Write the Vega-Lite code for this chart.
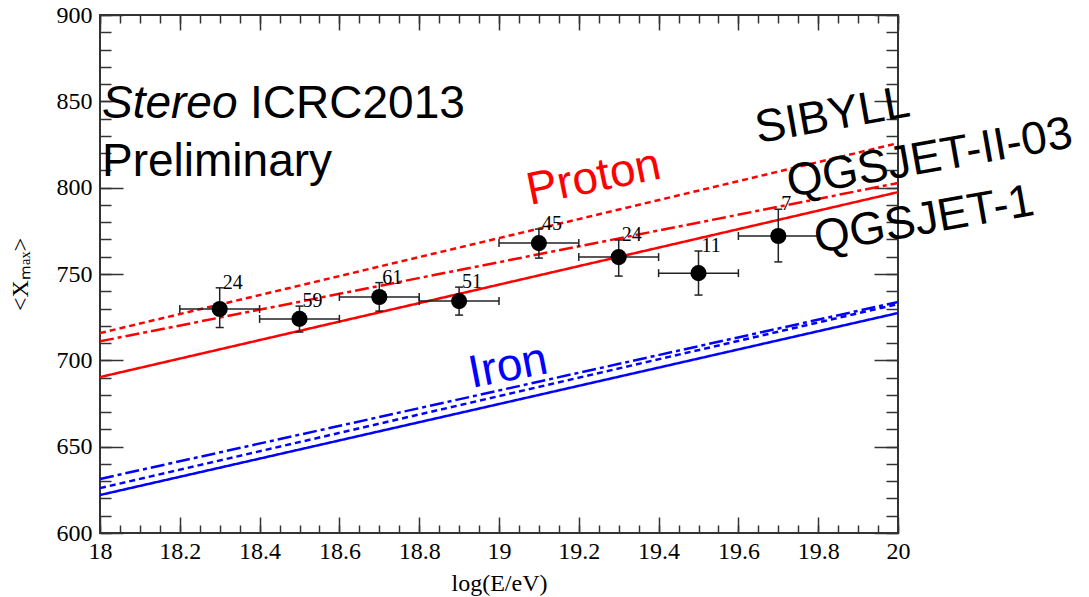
{
  "$schema": "https://vega.github.io/schema/vega-lite/v6.json",
  "width": 798,
  "height": 518,
  "autosize": "none",
  "padding": {"left": 100, "top": 15, "right": 191, "bottom": 64},
  "background": "white",
  "config": {
    "view": {"stroke": "#333333", "strokeWidth": 2},
    "axis": {
      "domain": false,
      "grid": false,
      "labelFont": "Liberation Serif",
      "labelFontSize": 24,
      "labelColor": "#000000",
      "titleFont": "Liberation Serif",
      "titleFontSize": 24,
      "titleFontWeight": "normal",
      "titleColor": "#000000",
      "tickColor": "#333333",
      "tickWidth": 1.5,
      "labelFlush": false,
      "labelOverlap": false
    }
  },
  "datasets": {
    "models": [
      {"comp": "Proton", "model": "QGSJET-1", "logE": 18, "xmax": 690.3},
      {"comp": "Proton", "model": "QGSJET-1", "logE": 20, "xmax": 797.4},
      {"comp": "Proton", "model": "SIBYLL", "logE": 18, "xmax": 715.8},
      {"comp": "Proton", "model": "SIBYLL", "logE": 20, "xmax": 825.8},
      {"comp": "Proton", "model": "QGSJET-II-03", "logE": 18, "xmax": 711.0},
      {"comp": "Proton", "model": "QGSJET-II-03", "logE": 20, "xmax": 802.7},
      {"comp": "Iron", "model": "QGSJET-1", "logE": 18, "xmax": 622.0},
      {"comp": "Iron", "model": "QGSJET-1", "logE": 20, "xmax": 727.4},
      {"comp": "Iron", "model": "SIBYLL", "logE": 18, "xmax": 626.0},
      {"comp": "Iron", "model": "SIBYLL", "logE": 20, "xmax": 732.6},
      {"comp": "Iron", "model": "QGSJET-II-03", "logE": 18, "xmax": 631.3},
      {"comp": "Iron", "model": "QGSJET-II-03", "logE": 20, "xmax": 733.8}
    ],
    "stereo": [
      {"logE": 18.3, "lo": 18.2, "hi": 18.4, "xmax": 729.7, "down": 719.0, "up": 742.0, "n": 24},
      {"logE": 18.5, "lo": 18.4, "hi": 18.6, "xmax": 724.0, "down": 716.4, "up": 731.4, "n": 59},
      {"logE": 18.7, "lo": 18.6, "hi": 18.8, "xmax": 736.7, "down": 728.5, "up": 745.0, "n": 61},
      {"logE": 18.9, "lo": 18.8, "hi": 19.0, "xmax": 734.3, "down": 726.2, "up": 742.4, "n": 51},
      {"logE": 19.1, "lo": 19.0, "hi": 19.2, "xmax": 767.9, "down": 759.2, "up": 776.0, "n": 45},
      {"logE": 19.3, "lo": 19.2, "hi": 19.4, "xmax": 759.8, "down": 748.8, "up": 769.7, "n": 24},
      {"logE": 19.5, "lo": 19.4, "hi": 19.6, "xmax": 750.5, "down": 737.8, "up": 763.3, "n": 11},
      {"logE": 19.7, "lo": 19.6, "hi": 19.8, "xmax": 772.0, "down": 757.0, "up": 787.5, "n": 7}
    ],
    "notes": [
      {"group": "italic", "text": "Stereo", "logE": 18.005, "xmax": 840.3},
      {"group": "plain", "text": "ICRC2013", "logE": 18.376, "xmax": 840.3},
      {"group": "plain", "text": "Preliminary", "logE": 18.005, "xmax": 806.7},
      {"group": "proton", "text": "Proton", "logE": 19.078, "xmax": 789.9},
      {"group": "iron", "text": "Iron", "logE": 18.932, "xmax": 684.0},
      {"group": "model", "text": "SIBYLL", "logE": 19.649, "xmax": 825.8},
      {"group": "model", "text": "QGSJET-II-03", "logE": 19.729, "xmax": 794.6},
      {"group": "model", "text": "QGSJET-1", "logE": 19.797, "xmax": 762.1}
    ]
  },
  "layer": [
    {
      "data": {"name": "models"},
      "mark": {"type": "line", "strokeWidth": 2.5},
      "encoding": {
        "x": {
          "field": "logE", "type": "quantitative",
          "scale": {"domain": [18, 20], "nice": false, "zero": false},
          "axis": {
            "orient": "bottom", "ticks": false, "labelPadding": 6, "format": "~g",
            "values": [18, 18.2, 18.4, 18.6, 18.8, 19, 19.2, 19.4, 19.6, 19.8, 20],
            "title": "log(E/eV)", "titlePadding": 8
          }
        },
        "y": {
          "field": "xmax", "type": "quantitative",
          "scale": {"domain": [600, 900], "nice": false, "zero": false},
          "axis": {
            "orient": "left", "ticks": false, "labelPadding": 8, "format": "d",
            "values": [600, 650, 700, 750, 800, 850, 900],
            "title": "<Xₘₐₓ>", "titlePadding": 24
          }
        },
        "color": {
          "field": "comp", "type": "nominal",
          "scale": {"domain": ["Proton", "Iron"], "range": ["#ff0000", "#0000ff"]},
          "legend": null
        },
        "strokeDash": {
          "field": "model", "type": "nominal",
          "scale": {"domain": ["QGSJET-1", "SIBYLL", "QGSJET-II-03"], "range": [[1, 0], [6, 4], [14, 4, 4, 4]]},
          "legend": null
        }
      }
    },
    {
      "data": {"name": "stereo"},
      "mark": {"type": "rule", "color": "#222222", "strokeWidth": 1.5},
      "encoding": {
        "x": {
          "field": "lo", "type": "quantitative",
          "axis": {
            "orient": "bottom", "labels": false, "ticks": true, "tickSize": 16, "offset": -16, "title": null,
            "values": [18, 18.2, 18.4, 18.6, 18.8, 19, 19.2, 19.4, 19.6, 19.8, 20]
          }
        },
        "x2": {"field": "hi"},
        "y": {
          "field": "xmax", "type": "quantitative",
          "axis": {
            "orient": "left", "labels": false, "ticks": true, "tickSize": 23, "offset": -23, "title": null,
            "values": [600, 650, 700, 750, 800, 850, 900]
          }
        }
      }
    },
    {
      "data": {"name": "stereo"},
      "mark": {"type": "rule", "color": "#222222", "strokeWidth": 1.5},
      "encoding": {
        "x": {
          "field": "logE", "type": "quantitative",
          "axis": {
            "orient": "bottom", "labels": false, "ticks": true, "tickSize": 8, "offset": -8, "title": null,
            "values": [18, 18.05, 18.1, 18.15, 18.2, 18.25, 18.3, 18.35, 18.4, 18.45, 18.5, 18.55, 18.6, 18.65, 18.7, 18.75, 18.8, 18.85, 18.9, 18.95, 19, 19.05, 19.1, 19.15, 19.2, 19.25, 19.3, 19.35, 19.4, 19.45, 19.5, 19.55, 19.6, 19.65, 19.7, 19.75, 19.8, 19.85, 19.9, 19.95, 20]
          }
        },
        "y": {
          "field": "down", "type": "quantitative",
          "axis": {
            "orient": "left", "labels": false, "ticks": true, "tickSize": 11, "offset": -11, "title": null,
            "values": [600, 610, 620, 630, 640, 650, 660, 670, 680, 690, 700, 710, 720, 730, 740, 750, 760, 770, 780, 790, 800, 810, 820, 830, 840, 850, 860, 870, 880, 890, 900]
          }
        },
        "y2": {"field": "up"}
      }
    },
    {
      "data": {"name": "stereo"},
      "mark": {"type": "tick", "orient": "horizontal", "size": 8, "thickness": 1.5, "color": "#222222", "opacity": 1},
      "encoding": {
        "x": {
          "field": "logE", "type": "quantitative",
          "axis": {
            "orient": "top", "labels": false, "ticks": true, "tickSize": 15, "offset": -15, "title": null,
            "values": [18, 18.2, 18.4, 18.6, 18.8, 19, 19.2, 19.4, 19.6, 19.8, 20]
          }
        },
        "y": {
          "field": "up", "type": "quantitative",
          "axis": {
            "orient": "right", "labels": false, "ticks": true, "tickSize": 24, "offset": -24, "title": null,
            "values": [600, 650, 700, 750, 800, 850, 900]
          }
        }
      }
    },
    {
      "data": {"name": "stereo"},
      "mark": {"type": "tick", "orient": "horizontal", "size": 8, "thickness": 1.5, "color": "#222222", "opacity": 1},
      "encoding": {
        "x": {
          "field": "logE", "type": "quantitative",
          "axis": {
            "orient": "top", "labels": false, "ticks": true, "tickSize": 8, "offset": -8, "title": null,
            "values": [18, 18.05, 18.1, 18.15, 18.2, 18.25, 18.3, 18.35, 18.4, 18.45, 18.5, 18.55, 18.6, 18.65, 18.7, 18.75, 18.8, 18.85, 18.9, 18.95, 19, 19.05, 19.1, 19.15, 19.2, 19.25, 19.3, 19.35, 19.4, 19.45, 19.5, 19.55, 19.6, 19.65, 19.7, 19.75, 19.8, 19.85, 19.9, 19.95, 20]
          }
        },
        "y": {
          "field": "down", "type": "quantitative",
          "axis": {
            "orient": "right", "labels": false, "ticks": true, "tickSize": 12, "offset": -12, "title": null,
            "values": [600, 610, 620, 630, 640, 650, 660, 670, 680, 690, 700, 710, 720, 730, 740, 750, 760, 770, 780, 790, 800, 810, 820, 830, 840, 850, 860, 870, 880, 890, 900]
          }
        }
      }
    },
    {
      "data": {"name": "stereo"},
      "mark": {"type": "tick", "orient": "vertical", "size": 8, "thickness": 1.5, "color": "#222222", "opacity": 1},
      "encoding": {
        "x": {"field": "lo", "type": "quantitative", "axis": null},
        "y": {"field": "xmax", "type": "quantitative", "axis": null}
      }
    },
    {
      "data": {"name": "stereo"},
      "mark": {"type": "tick", "orient": "vertical", "size": 8, "thickness": 1.5, "color": "#222222", "opacity": 1},
      "encoding": {
        "x": {"field": "hi", "type": "quantitative", "axis": null},
        "y": {"field": "xmax", "type": "quantitative", "axis": null}
      }
    },
    {
      "data": {"name": "stereo"},
      "mark": {"type": "circle", "size": 260, "color": "#000000", "opacity": 1},
      "encoding": {
        "x": {"field": "logE", "type": "quantitative", "axis": null},
        "y": {"field": "xmax", "type": "quantitative", "axis": null}
      }
    },
    {
      "data": {"name": "stereo"},
      "mark": {"type": "text", "font": "Liberation Serif", "fontSize": 20, "align": "left", "baseline": "alphabetic", "dx": 3, "dy": 1, "color": "#000000"},
      "encoding": {
        "x": {"field": "logE", "type": "quantitative", "axis": null},
        "y": {"field": "up", "type": "quantitative", "axis": null},
        "text": {"field": "n", "type": "quantitative"}
      }
    },
    {
      "data": {"name": "notes"},
      "transform": [{"filter": "datum.group === 'italic'"}],
      "mark": {"type": "text", "font": "Liberation Sans", "fontSize": 46, "fontStyle": "italic", "align": "left", "baseline": "alphabetic", "color": "#000000"},
      "encoding": {
        "x": {"field": "logE", "type": "quantitative", "axis": null},
        "y": {"field": "xmax", "type": "quantitative", "axis": null},
        "text": {"field": "text"}
      }
    },
    {
      "data": {"name": "notes"},
      "transform": [{"filter": "datum.group === 'plain'"}],
      "mark": {"type": "text", "font": "Liberation Sans", "fontSize": 46, "align": "left", "baseline": "alphabetic", "color": "#000000"},
      "encoding": {
        "x": {"field": "logE", "type": "quantitative", "axis": null},
        "y": {"field": "xmax", "type": "quantitative", "axis": null},
        "text": {"field": "text"}
      }
    },
    {
      "data": {"name": "notes"},
      "transform": [{"filter": "datum.group === 'proton'"}],
      "mark": {"type": "text", "font": "Liberation Sans", "fontSize": 46, "angle": 348.5, "align": "left", "baseline": "alphabetic", "color": "#ff0000"},
      "encoding": {
        "x": {"field": "logE", "type": "quantitative", "axis": null},
        "y": {"field": "xmax", "type": "quantitative", "axis": null},
        "text": {"field": "text"}
      }
    },
    {
      "data": {"name": "notes"},
      "transform": [{"filter": "datum.group === 'iron'"}],
      "mark": {"type": "text", "font": "Liberation Sans", "fontSize": 46, "angle": 349, "align": "left", "baseline": "alphabetic", "color": "#0000ff"},
      "encoding": {
        "x": {"field": "logE", "type": "quantitative", "axis": null},
        "y": {"field": "xmax", "type": "quantitative", "axis": null},
        "text": {"field": "text"}
      }
    },
    {
      "data": {"name": "notes"},
      "transform": [{"filter": "datum.group === 'model'"}],
      "mark": {"type": "text", "font": "Liberation Sans", "fontSize": 46, "angle": 350, "align": "left", "baseline": "alphabetic", "color": "#000000"},
      "encoding": {
        "x": {"field": "logE", "type": "quantitative", "axis": null},
        "y": {"field": "xmax", "type": "quantitative", "axis": null},
        "text": {"field": "text"}
      }
    }
  ],
  "resolve": {"axis": {"x": "independent", "y": "independent"}}
}
